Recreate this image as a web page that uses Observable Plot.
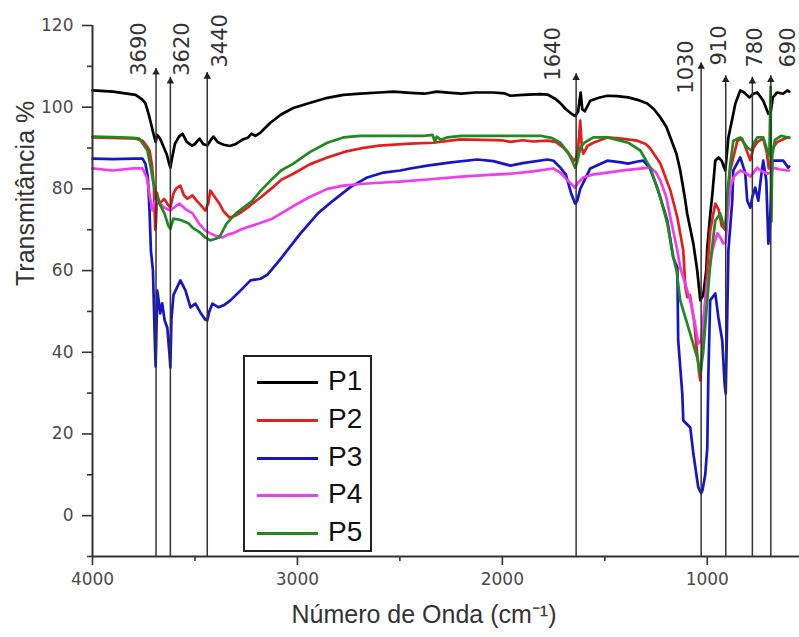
<!DOCTYPE html>
<html>
<head>
<meta charset="utf-8">
<script src="https://cdn.jsdelivr.net/npm/d3@7"></script>
<script src="https://cdn.jsdelivr.net/npm/@observablehq/plot@0.6"></script>
<style>
  body { margin: 0; background: #fff; }
  #wrap { position: relative; width: 799px; height: 637px; overflow: hidden; }
  #legend { position: absolute; left: 243px; top: 355px; width: 125px; height: 193px;
            border: 2px solid #222; background: #fff; font-family: "Liberation Sans", Arial, sans-serif; }
  .lg-row { position: absolute; left: 0; height: 30px; }
  .lg-line { position: absolute; left: 12px; width: 61px; height: 3px; top: 14px; }
  .lg-text { position: absolute; left: 83px; top: -2px; font-size: 28px; line-height: 32px; color: #111; }
</style>
</head>
<body>
<div id="wrap"></div>
<script>
// ---- data ----
const seriesNames = ["P1", "P2", "P3", "P4", "P5"];
const seriesColors = ["#000000", "#e41e1e", "#1616c8", "#f03cf0", "#1f8a1f"];

// [wavenumber (cm-1), transmittance %]
const p1 = [[4000,104.1],[3900,103.8],[3790,103],[3760,102],[3742,101],[3727,98.5],[3717,96.5],[3705,94],[3692,91.5],[3684,93.2],[3670,92.3],[3655,90.5],[3638,88.5],[3625,86],[3620,85.2],[3612,87.5],[3598,91],[3578,92.8],[3561,93.5],[3540,91.5],[3515,90.6],[3500,91],[3478,92.3],[3460,91],[3440,90.6],[3425,91.8],[3410,92.8],[3390,91.5],[3360,90.8],[3330,90.5],[3300,91],[3270,92],[3240,92.6],[3225,93.5],[3205,93],[3180,93.8],[3132,96.2],[3080,98.2],[3020,99.8],[2937,101.1],[2854,102.3],[2776,103],[2693,103.3],[2600,103.6],[2532,103.8],[2450,103.5],[2380,103.3],[2320,103.8],[2250,103.5],[2200,103.3],[2130,103.6],[2044,103.6],[1990,103.4],[1961,102.8],[1900,103],[1815,103.2],[1780,103.1],[1740,102],[1717,101],[1690,99.5],[1665,98.5],[1645,97.8],[1630,99],[1618,103.6],[1610,99.5],[1598,99],[1571,101.6],[1530,102.3],[1488,102.8],[1440,102.7],[1386,102.4],[1340,101.8],[1293,100.9],[1260,99.5],[1229,97.5],[1200,95.2],[1180,92.6],[1150,88.5],[1132,84.5],[1110,78],[1098,73.9],[1068,66.6],[1049,60],[1034,52.7],[1020,54],[1005,60],[1000,65.6],[985,74],[975,78.9],[961,86.9],[945,87.7],[930,86.9],[912,84.5],[897,92.6],[880,96.7],[863,100.9],[839,104.1],[820,103.6],[795,102.4],[775,103.3],[756,103.6],[727,101.6],[702,98.4],[690,99],[680,102.4],[659,103.6],[630,103.3],[610,104.1],[600,103.8]];

const p2 = [[4000,92.6],[3900,92.5],[3790,92.3],[3756,91.8],[3735,90.5],[3722,89.4],[3710,86],[3700,80],[3694,70],[3690,72],[3685,79],[3673,76.4],[3650,77.5],[3630,76],[3620,75.4],[3605,78.9],[3590,80.2],[3571,80.8],[3555,78.5],[3537,77.6],[3512,78.4],[3490,77],[3478,76.4],[3449,74.7],[3435,76.5],[3425,79.6],[3410,78.5],[3381,76.4],[3360,74.5],[3332,73],[3300,73.5],[3283,74],[3260,74.8],[3240,75.5],[3220,76.4],[3180,77.9],[3122,80.3],[3080,82.2],[3020,83.7],[2940,86],[2854,87.7],[2760,89.2],[2693,89.9],[2600,90.6],[2449,91.1],[2337,91.3],[2205,92.1],[2100,92],[2000,91.9],[1961,91.5],[1900,91.9],[1850,91.6],[1780,91.8],[1740,91.5],[1702,90.1],[1675,88.5],[1650,86.9],[1640,87.5],[1630,90],[1620,96.7],[1612,90],[1605,88.6],[1585,90.5],[1556,91.3],[1488,92.6],[1420,92.3],[1342,91.8],[1300,91],[1278,89.9],[1229,86.2],[1180,79.6],[1146,73],[1117,64.9],[1107,56],[1098,53.5],[1085,54],[1065,48],[1050,40],[1040,35],[1034,33.1],[1025,40],[1000,60.7],[985,70],[961,76.4],[945,75],[930,71],[912,70],[900,78],[888,84.5],[853,91.8],[830,92.3],[805,89],[790,87],[775,90],[756,91.5],[727,92.3],[710,89],[700,85],[690,87],[680,90],[659,91.5],[610,92.6],[600,92.5]];

const p3 = [[4000,87.4],[3900,87.3],[3800,87.4],[3756,87.4],[3742,86.2],[3730,83],[3722,75],[3715,64.9],[3705,60],[3697,45],[3692,36.5],[3688,45],[3684,55.1],[3678,53],[3670,49.5],[3660,52],[3648,47.8],[3635,46],[3625,40],[3620,36.3],[3615,48],[3605,54],[3595,55.1],[3571,57.6],[3560,56.5],[3546,55.1],[3522,51],[3498,51.9],[3473,49.7],[3450,48],[3440,47.8],[3430,50],[3415,51.9],[3385,51],[3360,51.5],[3327,52.7],[3278,55.1],[3229,57.6],[3180,58],[3146,59],[3080,63],[2985,69.1],[2900,74],[2824,77.2],[2740,80.5],[2659,82.8],[2580,84],[2498,84.5],[2449,85],[2366,85.7],[2250,86.5],[2122,87.2],[2044,86.8],[1961,85.7],[1900,86.3],[1780,87.2],[1750,86.9],[1717,85.2],[1690,83.5],[1665,79],[1645,76.4],[1635,77],[1620,80],[1600,82],[1571,85],[1488,86.9],[1420,86.5],[1386,86.2],[1340,86.7],[1312,86.9],[1280,85],[1244,80.3],[1195,72.2],[1166,63.2],[1146,60.7],[1142,42.9],[1122,29.9],[1117,23.3],[1083,21.6],[1068,15.2],[1044,6.9],[1030,5.5],[1024,6.1],[1010,10],[1000,16.6],[995,33.8],[986,52.7],[961,54.4],[946,48.6],[927,42.9],[915,32],[910,29.9],[904,45],[897,64.9],[878,77.1],[873,84.5],[839,87.7],[815,84],[805,77.1],[790,75.4],[780,78],[766,80.3],[751,77.1],[740,82],[727,86.9],[712,82],[702,66.6],[695,70],[683,86.9],[629,86.9],[605,85.2],[600,85.5]];

const p4 = [[4000,85],[3902,84.5],[3800,85],[3756,85],[3735,82.8],[3720,78],[3707,74.7],[3695,77],[3683,77.1],[3649,75.4],[3620,74.7],[3600,75.5],[3576,76.4],[3545,75],[3512,74],[3480,71.5],[3449,69.8],[3425,69.1],[3400,68.5],[3366,68.1],[3340,68.8],[3317,69.1],[3270,70.2],[3220,71],[3122,72.7],[3020,75.8],[2940,78],[2854,80],[2776,80.8],[2693,81.2],[2600,81.5],[2498,81.8],[2366,82.3],[2200,83],[2044,83.5],[1961,83.7],[1850,84.3],[1751,85],[1717,84],[1690,82.5],[1645,80.3],[1630,81.5],[1605,82.8],[1560,83.5],[1488,84],[1400,84.6],[1278,85.2],[1250,84],[1229,82],[1200,78],[1180,73],[1146,64.9],[1132,60.7],[1083,52.7],[1060,47],[1044,42.1],[1030,42.9],[1020,48],[1000,56.8],[975,65],[951,69.1],[935,68],[922,66.6],[910,67],[900,74],[888,80.3],[870,83],[839,84.5],[805,83.7],[790,83],[756,85.2],[740,84.5],[707,83.7],[690,84],[678,85.2],[650,84.8],[610,84.5],[600,84.5]];

const p5 = [[4000,92.8],[3900,92.7],[3800,92.5],[3771,92.3],[3732,89.4],[3715,85],[3705,82],[3690,78.9],[3670,76],[3649,74],[3630,71],[3620,70.2],[3605,72.7],[3580,72.5],[3561,72.2],[3530,71.5],[3512,70.5],[3480,69.5],[3449,68.1],[3425,67.4],[3400,67.8],[3381,68.1],[3346,71.5],[3300,74],[3220,77.1],[3180,79.5],[3122,82.5],[3080,84.5],[3020,86.2],[2940,89],[2854,91.3],[2776,92.6],[2693,93],[2500,93],[2385,93],[2340,93.2],[2330,91.5],[2320,92.8],[2300,92],[2270,92.6],[2200,93],[2000,93],[1815,93],[1760,92.5],[1717,91.3],[1680,89],[1660,86.9],[1645,85.2],[1635,86.5],[1620,90],[1600,91.3],[1556,92.6],[1488,92.6],[1386,91.3],[1327,89.4],[1278,85.2],[1229,77.9],[1195,71.5],[1166,63.2],[1150,60],[1132,52.7],[1098,47],[1049,38.7],[1034,34.8],[1020,40],[1000,52.7],[985,62],[961,72.2],[937,74],[925,72],[912,70],[900,80],[888,86],[873,91.8],[839,92.6],[805,90.1],[785,89.4],[770,91.5],[756,92.6],[727,92.6],[707,89.4],[697,88],[693,100],[691,105],[689,80],[687,72],[683,88],[670,92],[640,93],[610,92.6],[600,92.6]];

const seriesData = [p1, p2, p3, p4, p5];

// peak annotations
const peakWave = [3690, 3620, 3440, 1640, 1030, 910, 780, 690];
const peakLabels = ["3690", "3620", "3440", "1640", "1030", "910", "780", "690"];
const peakTop = [109.5, 107.3, 108.5, 108.2, 110.9, 107.7, 107.3, 107.7];
// label layout (start height in % units, horizontal offset in px)
const labelStart = [107.7, 107.7, 109.7, 106.5, 103.3, 110.2, 109.7, 109.7];
const labelDx = [-17, 12, 13, -23, -15, -6, 3, 17];

// axis ticks
const xMajor = [4000, 3000, 2000, 1000];
const xMinor = [3500, 2500, 1500];
const yMajor = [0, 20, 40, 60, 80, 100, 120];
const yMinor = [-10, 10, 30, 50, 70, 90, 110];

// ---- build table ----
const rows = [];
seriesData.forEach((s, i) => s.forEach(([w, t]) => rows.push({series: seriesNames[i], wn: w, t})));
const peaks = peakWave.map((w, i) => ({w, label: peakLabels[i], top: peakTop[i], ly: labelStart[i], dx: labelDx[i]}));

const font = '"Liberation Sans", Arial, sans-serif';
const tickFont = '"DejaVu Sans", Verdana, sans-serif';

const labelMarks = peaks.map(p =>
  Plot.text([p], {x: "w", y: "ly", text: "label", rotate: -90, textAnchor: "start", dx: p.dx, fontSize: 21, fontFamily: tickFont, fill: "#333"})
);

const chart = Plot.plot({
  width: 799,
  height: 637,
  marginLeft: 92,
  marginRight: 0,
  marginTop: 25,
  marginBottom: 81,
  x: {domain: [4000, 550]},
  y: {domain: [-10, 120]},
  color: {domain: seriesNames, range: seriesColors},
  style: {fontFamily: font, background: "#fff", overflow: "visible"},
  marks: [
    Plot.axisX(xMajor, {tickSize: 9, tickPadding: 7, label: null, fontSize: 17, fontFamily: tickFont, fill: "#4a4a4a", stroke: "#333", strokeWidth: 1.6, tickFormat: d => String(d)}),
    Plot.axisX(xMinor, {tickSize: 5, label: null, stroke: "#333", strokeWidth: 1.6, tickFormat: () => ""}),
    Plot.axisY(yMajor, {tickSize: 10, tickPadding: 9, label: null, fontSize: 17, fontFamily: tickFont, fill: "#4a4a4a", stroke: "#333", strokeWidth: 1.6, tickFormat: d => String(d)}),
    Plot.axisY(yMinor, {tickSize: 5, label: null, stroke: "#333", strokeWidth: 1.6, tickFormat: () => ""}),
    Plot.line(rows, {x: "wn", y: "t", z: "series", stroke: "series", strokeWidth: 2.7, strokeLinejoin: "round"}),
    Plot.ruleX(peaks, {x: "w", y1: -10, y2: d => d.top, stroke: "#333", strokeWidth: 1.5}),
    Plot.dot(peaks, {x: "w", y: "top", symbol: "triangle", r: 2.8, fill: "#222", stroke: "none", dy: 4}),
    ...labelMarks,
    Plot.ruleY([-10], {stroke: "#333", strokeWidth: 2}),
    Plot.ruleX([4000], {y1: -10, y2: 120, stroke: "#333", strokeWidth: 2}),
    Plot.text(["Número de Onda (cm⁻¹)"], {frameAnchor: "bottom", dx: -22, dy: 66, fontSize: 25, fill: "#333"}),
    Plot.text(["Transmitância %"], {frameAnchor: "left", dx: -67, dy: -5, rotate: -90, fontSize: 25, fill: "#333"})
  ]
});

const wrap = document.getElementById("wrap");
wrap.appendChild(chart);

// legend
const lg = document.createElement("div");
lg.id = "legend";
seriesNames.forEach((n, i) => {
  const row = document.createElement("div");
  row.className = "lg-row";
  row.style.top = (10 + i * 37.8) + "px";
  row.style.width = "125px";
  const ln = document.createElement("div");
  ln.className = "lg-line";
  ln.style.background = seriesColors[i];
  const tx = document.createElement("div");
  tx.className = "lg-text";
  tx.textContent = n;
  row.appendChild(ln); row.appendChild(tx);
  lg.appendChild(row);
});
wrap.appendChild(lg);
</script>
</body>
</html>
